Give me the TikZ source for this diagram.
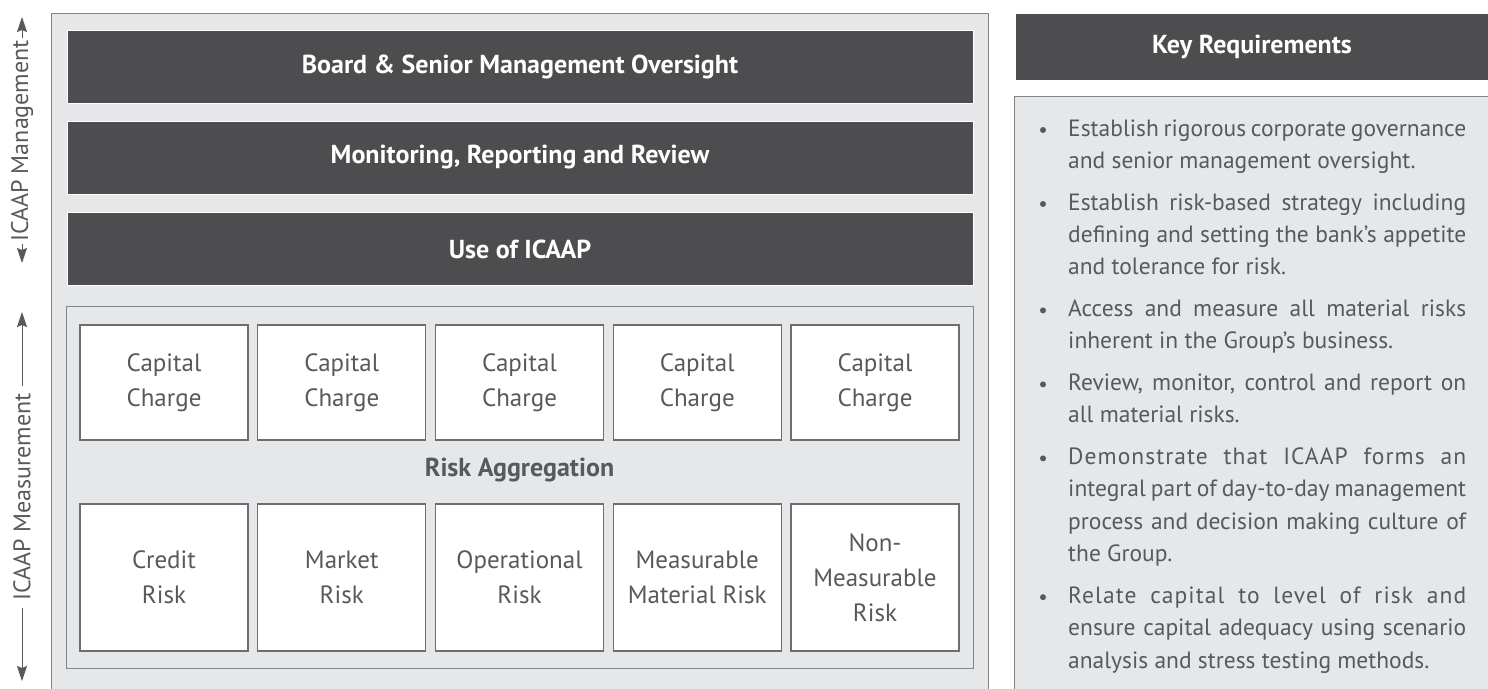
\documentclass[tikz,border=0pt]{standalone}
\usepackage{fontspec}
\setmainfont{PT Sans}
\usetikzlibrary{arrows.meta}
\definecolor{darkbar}{HTML}{4D4D4F}
\definecolor{lightbg}{HTML}{E6E7E8}
\definecolor{edgegray}{HTML}{6D6E71}
\definecolor{txtgray}{HTML}{58595B}
\newcommand{\spaced}[1]{{\addfontfeature{LetterSpace=4.5}#1}}
\begin{document}
\begin{tikzpicture}[x=1pt,y=-1pt,
  bar/.style={draw=white, line width=0.8pt, fill=darkbar, text=white,
    font=\fontsize{26}{30}\selectfont\bfseries, minimum width=906pt, minimum height=73pt, inner sep=0},
  cell/.style={draw=edgegray, line width=1.2pt, fill=white, text=txtgray,
    font=\fontsize{25}{35}\selectfont, align=center, minimum width=168pt, inner sep=0},
  panel/.style={draw=edgegray!85, line width=1.2pt, fill=lightbg, inner sep=0},
  dot/.style={circle, fill=txtgray, minimum size=6pt, inner sep=0},
  bul/.style={text=txtgray, font=\fontsize{23.5}{32.4}\selectfont, inner sep=0, anchor=base west},
  side/.style={rotate=90, fill=white, text=txtgray, font=\fontsize{24}{28}\selectfont},
  arr/.style={draw=txtgray, line width=1pt,
    {Stealth[length=15pt,width=10pt,inset=2pt]}-{Stealth[length=15pt,width=10pt,inset=2pt]}}
]
\useasboundingbox (0,0) rectangle (1488,688);
\fill[white] (0,0) rectangle (1488,688);

% left panel
\node[panel, anchor=north west, minimum width=937pt, minimum height=700pt] (outer) at (51,13) {};
\node[bar] (board) at (520,66.5) {Board \& Senior Management Oversight};
\node[bar] (monitor) at (520,157.5) {Monitoring, Reporting and Review};
\node[bar] (use) at (520,249) {Use of ICAAP};
\node[panel, anchor=north west, minimum width=907pt, minimum height=362pt] (agg) at (66,306) {};
\foreach \i in {1,...,5}
  \node[cell, minimum height=115pt] (cc\i) at ({164+177.75*(\i-1)},382.5) {Capital\\Charge};
\foreach \i/\t in {1/{Credit\\Risk},2/{Market\\Risk},3/{Operational\\Risk},4/{Measurable\\Material Risk},5/{Non-\\Measurable\\Risk}}
  \node[cell, minimum height=147pt] (rk\i) at ({164+177.75*(\i-1)},577.5) {\t};
\node[font=\fontsize{26}{30}\selectfont\bfseries, text=txtgray] (ra) at (519.5,470) {Risk Aggregation};

% side arrows
\coordinate (mt) at (22,17);
\coordinate (mb) at (22,263);
\coordinate (st) at (22,312);
\coordinate (sb) at (22,681);
\draw[arr] (mb) -- (mt);
\node[side, inner sep=2pt] (mlab) at (22,141) {ICAAP Management};
\draw[arr] (sb) -- (st);
\node[side, inner sep=7pt] (slab) at (22,497) {ICAAP Measurement};

% right panel
\node[panel, anchor=north west, minimum width=490pt, minimum height=620pt] (kbody) at (1014,96) {};
\node[bar, minimum width=474pt, minimum height=67pt] (khead) at (1252,46.5) {Key Requirements};

\foreach \y/\n in {130/1,204/2,310.4/3,384.4/4,458.4/5,597.2/6}
  \node[dot] (d\n) at (1043,\y) {};
\node[bul] (b1) at (1068,136) {\parbox[t]{398pt}{\makebox[398pt][s]{Establish rigorous corporate governance}\\and senior management oversight.}};
\node[bul] (b2) at (1068,210) {\parbox[t]{398pt}{\makebox[398pt][s]{Establish risk-based strategy including}\\\makebox[398pt][s]{defining and setting the bank’s appetite}\\and tolerance for risk.}};
\node[bul] (b3) at (1068,316.4) {\parbox[t]{398pt}{\makebox[398pt][s]{Access and measure all material risks}\\inherent in the Group’s business.}};
\node[bul] (b4) at (1068,390.4) {\parbox[t]{398pt}{\makebox[398pt][s]{Review, monitor, control and report on}\\all material risks.}};
\node[bul] (b5) at (1068,464.4) {\parbox[t]{398pt}{\makebox[398pt][s]{\spaced{Demonstrate that ICAAP forms an}}\\\makebox[398pt][s]{integral part of day-to-day management}\\\makebox[398pt][s]{process and decision making culture of}\\the Group.}};
\node[bul] (b6) at (1068,603.2) {\parbox[t]{398pt}{\makebox[398pt][s]{\spaced{Relate capital to level of risk and}}\\\makebox[398pt][s]{ensure capital adequacy using scenario}\\analysis and stress testing methods.}};
\end{tikzpicture}
\end{document}
